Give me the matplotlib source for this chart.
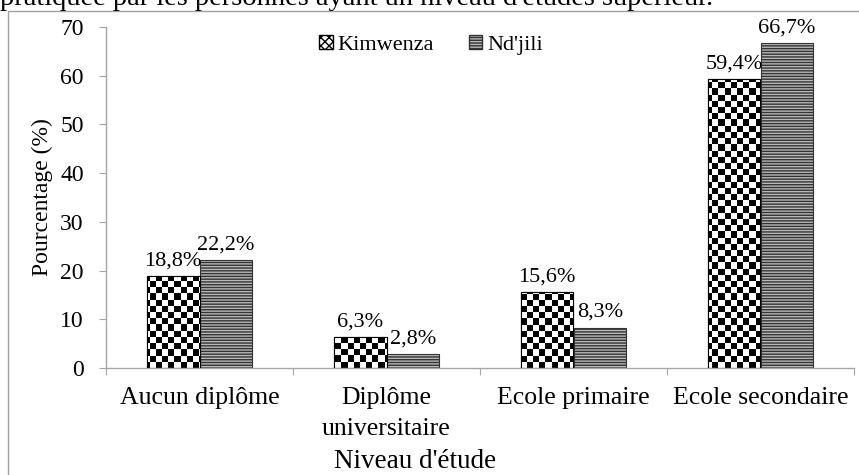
import numpy as np
import matplotlib
matplotlib.use("Agg")
import matplotlib.pyplot as plt
from matplotlib.patches import Patch, Rectangle

# data
categories = ["Aucun diplôme", "Diplôme\nuniversitaire", "Ecole primaire", "Ecole secondaire"]
kimwenza = [18.8, 6.3, 15.6, 59.4]
ndjili = [22.2, 2.8, 8.3, 66.7]
series_names = ["Kimwenza", "Nd'jili"]
yticks = [0, 10, 20, 30, 40, 50, 60, 70]

plt.rcParams["font.family"] = ["Liberation Serif", "DejaVu Serif"]
plt.rcParams["hatch.linewidth"] = 1.0
plt.rcParams["hatch.color"] = "#505050"

fs = 18.5
fig = plt.figure(figsize=(8.59, 4.75), dpi=100)
ax = fig.add_axes([106/859, 1-368/475, (854-106)/859, (368-27)/475])

x = np.arange(len(categories))
w = 0.283
b1 = ax.bar(x - w/2, kimwenza, w, facecolor="white", edgecolor="black", linewidth=0.8, zorder=2)
b2 = ax.bar(x + w/2, ndjili, w, facecolor="#b8b8b8", edgecolor="#333333", linewidth=0.8,
            hatch="------", zorder=2)

# checkerboard fill for Kimwenza bars (image clipped to each bar)
ny, nx = 55, 121
checker = (np.add.outer(np.arange(ny), np.arange(nx)) % 2).astype(float)
for rect in b1:
    im = ax.imshow(checker, cmap="gray", extent=(-0.5, len(categories) - 0.5, 0, 70),
                   origin="lower", interpolation="nearest", aspect="auto", zorder=2.5)
    im.set_clip_path(rect)
    outline = Rectangle(rect.get_xy(), rect.get_width(), rect.get_height(),
                        fill=False, edgecolor="black", linewidth=0.8, zorder=3)
    ax.add_patch(outline)
ax.set_xlim(-0.5, len(categories) - 0.5)
ax.set_ylim(0, 70)

def fmt(v):
    return f"{v:.1f}".replace(".", ",") + "%"

ax.bar_label(b1, labels=[fmt(v) for v in kimwenza], padding=4, fontsize=16)
ax.bar_label(b2, labels=[fmt(v) for v in ndjili], padding=4, fontsize=16)

ax.set_yticks(yticks)
ax.tick_params(axis="y", labelsize=17, length=5, color="#a6a6a6", pad=11)
ax.set_xticks(np.arange(len(categories) + 1) - 0.5)
ax.set_xticklabels([])
ax.tick_params(axis="x", which="major", length=5, color="#a6a6a6")
ax.set_xticks(x, minor=True)
ax.set_xticklabels(categories, minor=True, fontsize=fs, linespacing=1.5)
ax.tick_params(axis="x", which="minor", length=0, pad=14)

for s in ["top", "right"]:
    ax.spines[s].set_visible(False)
for s in ["left", "bottom"]:
    ax.spines[s].set_color("#a6a6a6")
    ax.spines[s].set_linewidth(1)

ax.set_ylabel("Pourcentage (%)", fontsize=17, labelpad=5)
fig.text(415/859, 1-461/475, "Niveau d'étude", fontsize=19.5, ha="center", va="center")

handles = [Patch(facecolor="white", edgecolor="black", hatch="xxxx"),
           Patch(facecolor="#b8b8b8", edgecolor="#333333", hatch="------")]
fig.legend(handles, series_names, loc="center", bbox_to_anchor=(431/859, 1-45/475),
           ncol=2, frameon=False, fontsize=16, handlelength=0.6, handleheight=0.6,
           handletextpad=0.2, columnspacing=1.6)

# frame and cropped caption
fig.add_artist(Rectangle((8/859, -0.1), 2, 1.1 - 11/475, transform=fig.transFigure,
                         fill=False, edgecolor="#a0a0a0", linewidth=1))
fig.text(0, 1-5/475, "pratiquée par les personnes ayant un niveau d'études supérieur.",
         fontsize=20.5, ha="left", va="baseline")

fig.savefig("out.png", dpi=100)
